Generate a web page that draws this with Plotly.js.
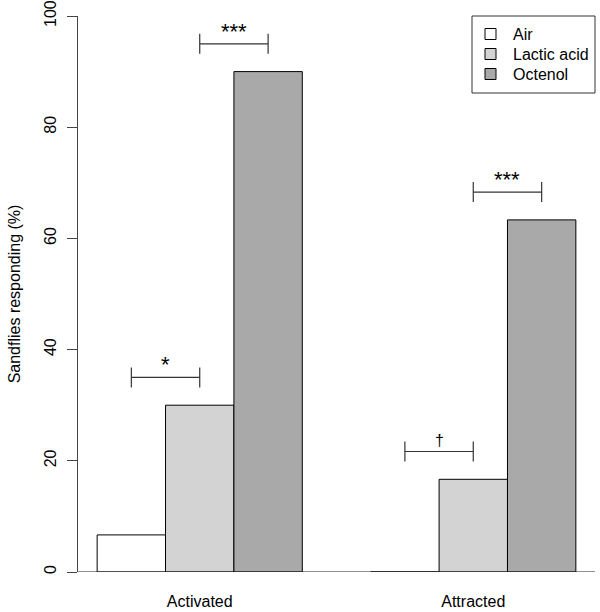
<!DOCTYPE html>
<html>
<head>
<meta charset="utf-8">
<script src="https://cdn.plot.ly/plotly-3.0.1.min.js"></script>
<style>html,body{margin:0;padding:0;background:#fff;}#chart{width:600px;height:612px;}</style>
</head>
<body>
<div id="chart"></div>
<script>
// Data
var groups = ["Activated", "Attracted"];
var seriesNames = ["Air", "Lactic acid", "Octenol"];
var seriesColors = ["#FFFFFF", "#D3D3D3", "#A9A9A9"];
var airValues = [6.67, 0];
var lacticValues = [30.0, 16.67];
var octenolValues = [90.0, 63.33];
var yTicks = [0, 20, 40, 60, 80, 100];

// Significance brackets: group index, from-series index, to-series index, height, label
var sigGroup = [0, 0, 1, 1];
var sigFrom = [0, 1, 0, 1];
var sigTo = [1, 2, 1, 2];
var sigHeight = [35, 95, 21.67, 68.33];
var sigLabel = ["*", "***", "\u2020", "***"];

var seriesValues = [airValues, lacticValues, octenolValues];
var groupPos = groups.map(function (g, i) { return i; });
var bargap = 0.25;
var barW = (1 - bargap) / seriesNames.length;
function barCenter(g, s) { return g + (s - (seriesNames.length - 1) / 2) * barW; }

var traces = seriesNames.map(function (name, s) {
  return {
    type: "bar",
    name: name,
    x: groupPos,
    y: seriesValues[s],
    marker: { color: seriesColors[s], line: { color: "#000", width: 1 } },
    hoverinfo: "skip",
    showlegend: false
  };
});

var FONT = "Liberation Sans, Arial, sans-serif";
var M = { l: 78, r: 5, t: 16, b: 40 };
var W = 600, H = 612;
var plotW = W - M.l - M.r, plotH = H - M.t - M.b;
function px2x(px) { return (px - M.l) / plotW; }
function px2y(py) { return (H - M.b - py) / plotH; }

var shapes = [{
  type: "line", xref: "paper", x0: 0, x1: 1, yref: "y", y0: 0, y1: 0,
  line: { color: "#222", width: 1 }
}];
var annotations = [];
var tickHalf = 1.8;
for (var i = 0; i < sigLabel.length; i++) {
  var xa = barCenter(sigGroup[i], sigFrom[i]);
  var xb = barCenter(sigGroup[i], sigTo[i]);
  var h = sigHeight[i];
  var ln = { color: "#333", width: 1.2 };
  shapes.push({ type: "line", xref: "x", yref: "y", x0: xa, x1: xb, y0: h, y1: h, line: ln });
  shapes.push({ type: "line", xref: "x", yref: "y", x0: xa, x1: xa, y0: h - tickHalf, y1: h + tickHalf, line: ln });
  shapes.push({ type: "line", xref: "x", yref: "y", x0: xb, x1: xb, y0: h - tickHalf, y1: h + tickHalf, line: ln });
  var isStar = sigLabel[i].charAt(0) === "*";
  annotations.push({
    xref: "x", yref: "y", x: (xa + xb) / 2, y: h, text: sigLabel[i],
    showarrow: false, yanchor: "bottom", yshift: isStar ? -2 : 1,
    font: { family: FONT, size: isStar ? 22 : 16, color: "#000" }
  });
}

// Legend (drawn like R's legend box)
var legBox = { x0: 472, x1: 595, y0: 16, y1: 93 };
shapes.push({
  type: "rect", xref: "paper", yref: "paper",
  x0: px2x(legBox.x0), x1: px2x(legBox.x1), y0: px2y(legBox.y1), y1: px2y(legBox.y0),
  line: { color: "#333", width: 1 }, fillcolor: "rgba(0,0,0,0)"
});
seriesNames.forEach(function (name, s) {
  var cy = 34 + s * 20;
  shapes.push({
    type: "rect", xref: "paper", yref: "paper",
    x0: px2x(485), x1: px2x(496), y0: px2y(cy + 5.5), y1: px2y(cy - 5.5),
    line: { color: "#000", width: 1 }, fillcolor: seriesColors[s]
  });
  annotations.push({
    xref: "paper", yref: "paper", x: px2x(511), y: px2y(cy), text: name,
    showarrow: false, xanchor: "left", yanchor: "middle",
    font: { family: FONT, size: 16, color: "#000" }
  });
});

var layout = {
  width: W, height: H,
  margin: { l: M.l, r: M.r, t: M.t, b: M.b, pad: 0 },
  paper_bgcolor: "#fff", plot_bgcolor: "#fff",
  font: { family: FONT, size: 16, color: "#000" },
  barmode: "group", bargap: bargap, bargroupgap: 0,
  showlegend: false,
  xaxis: {
    range: [-0.445, 1.445],
    tickvals: groupPos, ticktext: groups,
    showline: false, showgrid: false, zeroline: false,
    ticks: "", ticklabelstandoff: 18,
    tickfont: { size: 16 },
    fixedrange: true
  },
  yaxis: {
    range: [0, 100],
    tickvals: yTicks, ticktext: yTicks.map(String),
    showline: true, linecolor: "#444", linewidth: 1,
    ticks: "outside", ticklen: 10, tickcolor: "#444", tickwidth: 1,
    tickangle: -90, tickfont: { size: 16 }, ticklabelstandoff: 5,
    showgrid: false, zeroline: false,
    title: { text: "Sandflies responding (%)", font: { size: 16 }, standoff: 16 },
    fixedrange: true
  },
  shapes: shapes,
  annotations: annotations
};

Plotly.newPlot("chart", traces, layout, { displayModeBar: false, staticPlot: true });
</script>
</body>
</html>
